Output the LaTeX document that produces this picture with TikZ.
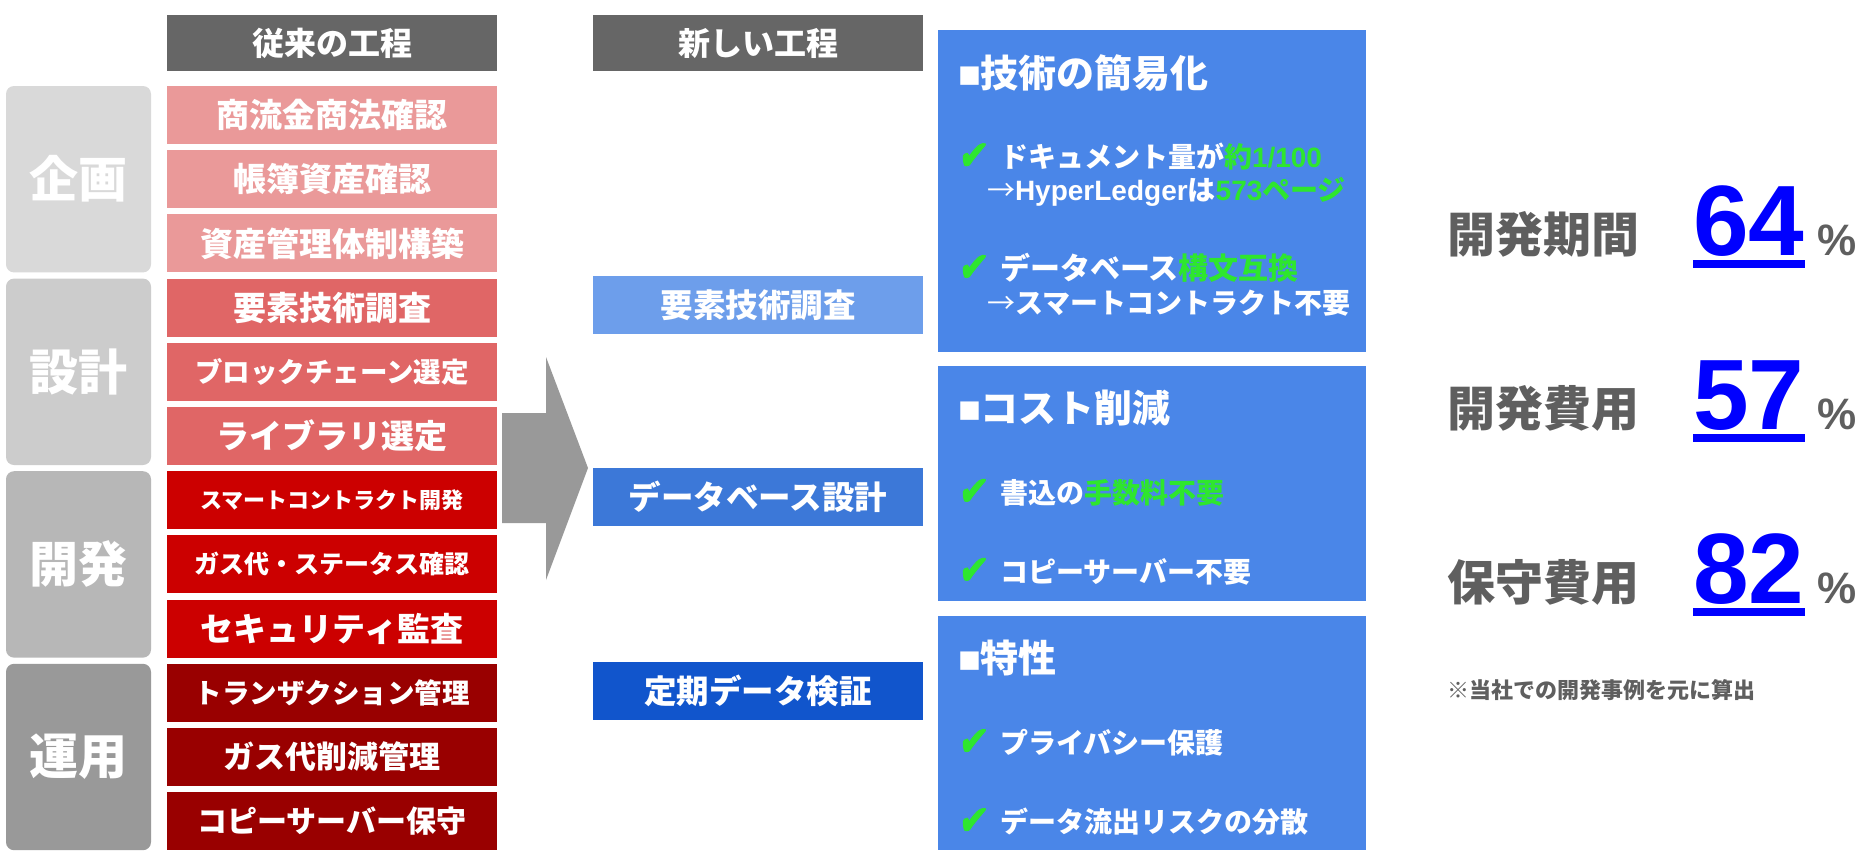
\documentclass[tikz,border=0pt]{standalone}
\usepackage{fontspec}
\usepackage{graphicx}
\newfontfamily\jp{Noto Sans CJK JP}
\newfontfamily\ar{Liberation Sans}
\newfontfamily\dvb{DejaVu Sans}[FakeBold=4,FakeSlant=0.15]
\newcommand\myfs[1]{\fontsize{#1}{#1}\selectfont}
\definecolor{hdr}{HTML}{666666}
\definecolor{ph1}{HTML}{D9D9D9}
\definecolor{ph2}{HTML}{CCCCCC}
\definecolor{ph3}{HTML}{B7B7B7}
\definecolor{ph4}{HTML}{999999}
\definecolor{rd1}{HTML}{EA9999}
\definecolor{rd2}{HTML}{E06666}
\definecolor{rd3}{HTML}{CC0000}
\definecolor{rd4}{HTML}{990000}
\definecolor{bl1}{HTML}{6D9EEB}
\definecolor{bl2}{HTML}{3C78D8}
\definecolor{bl3}{HTML}{1155CC}
\definecolor{pnl}{HTML}{4A86E8}
\definecolor{arrowc}{HTML}{999999}
\definecolor{txg}{HTML}{5F5F5F}
\definecolor{cg}{HTML}{2EE62E}
\definecolor{dblue}{HTML}{0000FF}
\newcommand\chk{\raisebox{-1pt}{\resizebox{28pt}{25pt}{\dvb\mdseries\textcolor{cg}{✔}}}\hspace{14pt}}
\tikzset{
  rect/.style={anchor=north west, inner sep=0pt, outer sep=0pt, text=white, font=\jp\bfseries, align=center},
  rowbox/.style={rect, minimum width=330pt, minimum height=58pt},
  phase/.style={rect, rounded corners=8pt, minimum width=145pt, minimum height=186.4pt},
  ptxt/.style={anchor=west, inner sep=0pt, outer sep=0pt, text=white, font=\jp\bfseries},
  lbl/.style={anchor=west, inner sep=0pt, text=txg, font=\jp\bfseries\myfs{48}},
  num/.style={anchor=base west, inner sep=0pt, text=dblue, font=\ar\bfseries\myfs{100}},
  pct/.style={anchor=base west, inner sep=0pt, text=txg, font=\ar\bfseries\myfs{44}},
  uline/.style={draw=dblue, line width=8pt}
}
\begin{document}
\begin{tikzpicture}[x=1pt,y=-1pt]
\fill[white] (0,0) rectangle (1872,860);
\useasboundingbox (0,0) rectangle (1872,860);

% headers
\node[rect, fill=hdr, minimum width=330pt, minimum height=56pt] (hold) at (167,15) {\myfs{32}従来の工程};
\node[rect, fill=hdr, minimum width=330pt, minimum height=56pt] (hnew) at (593,15) {\myfs{32}新しい工程};

% phases
\node[phase, fill=ph1] (p1) at (6,86) {\myfs{49}企画};
\node[phase, fill=ph2] (p2) at (6,278.6) {\myfs{49}設計};
\node[phase, fill=ph3] (p3) at (6,471.2) {\myfs{49}開発};
\node[phase, fill=ph4] (p4) at (6,663.8) {\myfs{49}運用};

% old process rows
\node[rowbox, fill=rd1] (r1) at (167,86) {\myfs{33}商流金商法確認};
\node[rowbox, fill=rd1] (r2) at (167,150.2) {\myfs{33}帳簿資産確認};
\node[rowbox, fill=rd1] (r3) at (167,214.4) {\myfs{33}資産管理体制構築};
\node[rowbox, fill=rd2] (r4) at (167,278.6) {\myfs{33}要素技術調査};
\node[rowbox, fill=rd2] (r5) at (167,342.8) {\myfs{27.5}ブロックチェーン選定};
\node[rowbox, fill=rd2] (r6) at (167,407) {\myfs{33}ライブラリ選定};
\node[rowbox, fill=rd3] (r7) at (167,471.2) {\myfs{22}スマートコントラクト開発};
\node[rowbox, fill=rd3] (r8) at (167,535.4) {\myfs{25}ガス代・ステータス確認};
\node[rowbox, fill=rd3] (r9) at (167,599.6) {\myfs{33}セキュリティ監査};
\node[rowbox, fill=rd4] (r10) at (167,663.8) {\myfs{27.5}トランザクション管理};
\node[rowbox, fill=rd4] (r11) at (167,728) {\myfs{31}ガス代削減管理};
\node[rowbox, fill=rd4] (r12) at (167,792.2) {\myfs{30}コピーサーバー保守};

% big arrow
\fill[arrowc] (502,413) -- (546,413) -- (546,357) -- (588,468) -- (546,580) -- (546,523) -- (502,523) -- cycle;

% new process boxes
\node[rowbox, fill=bl1] (n1) at (593,276) {\myfs{32.5}要素技術調査};
\node[rowbox, fill=bl2] (n2) at (593,468) {\myfs{32.5}データベース設計};
\node[rowbox, fill=bl3] (n3) at (593,662) {\myfs{32.5}定期データ検証};

% panels
\fill[pnl] (938,30) rectangle (1366,352);
\fill[pnl] (938,366) rectangle (1366,601);
\fill[pnl] (938,616) rectangle (1366,850);

% panel 1
\node[ptxt] (t1) at (958,73) {\myfs{38}{\ar ■}技術の簡易化};
\node[ptxt] (t1a) at (958,157) {\chk{\myfs{28}ドキュメント量が\textcolor{cg}{約{\ar 1/100}}}};
\node[ptxt] (t1b) at (987,192) {\myfs{28}{\mdseries →}{\ar HyperLedger}は\textcolor{cg}{{\ar 573}ページ}};
\node[ptxt] (t1c) at (958,268) {\chk{\myfs{30}データベース\textcolor{cg}{構文互換}}};
\node[ptxt] (t1d) at (987,303) {\myfs{28}{\mdseries →}スマートコントラクト不要};

% panel 2
\node[ptxt] (t2) at (958,408) {\myfs{38}{\ar ■}コスト削減};
\node[ptxt] (t2a) at (958,493) {\chk{\myfs{28}書込の\textcolor{cg}{手数料不要}}};
\node[ptxt] (t2b) at (958,572) {\chk{\myfs{28}コピーサーバー不要}};

% panel 3
\node[ptxt] (t3) at (958,658) {\myfs{38}{\ar ■}特性};
\node[ptxt] (t3a) at (958,743) {\chk{\myfs{28}プライバシー保護}};
\node[ptxt] (t3b) at (958,822) {\chk{\myfs{28}データ流出リスクの分散}};

% right side figures
\node[lbl] (l1) at (1447,234) {開発期間};
\node[lbl] (l2) at (1447,408) {開発費用};
\node[lbl] (l3) at (1447,582) {保守費用};
\node[num] (v1) at (1693,255) {64};
\node[num] (v2) at (1693,429) {57};
\node[num] (v3) at (1693,603) {82};
\draw[uline] ([yshift=-9pt]v1.base west) -- ([yshift=-9pt]v1.base east);
\draw[uline] ([yshift=-9pt]v2.base west) -- ([yshift=-9pt]v2.base east);
\draw[uline] ([yshift=-9pt]v3.base west) -- ([yshift=-9pt]v3.base east);
\node[pct] (c1) at (1817,255) {\%};
\node[pct] (c2) at (1817,429) {\%};
\node[pct] (c3) at (1817,603) {\%};
\node[anchor=west, inner sep=0pt, text=txg, font=\jp\bfseries\myfs{22}] (note) at (1447,690) {※当社での開発事例を元に算出};
\end{tikzpicture}
\end{document}
